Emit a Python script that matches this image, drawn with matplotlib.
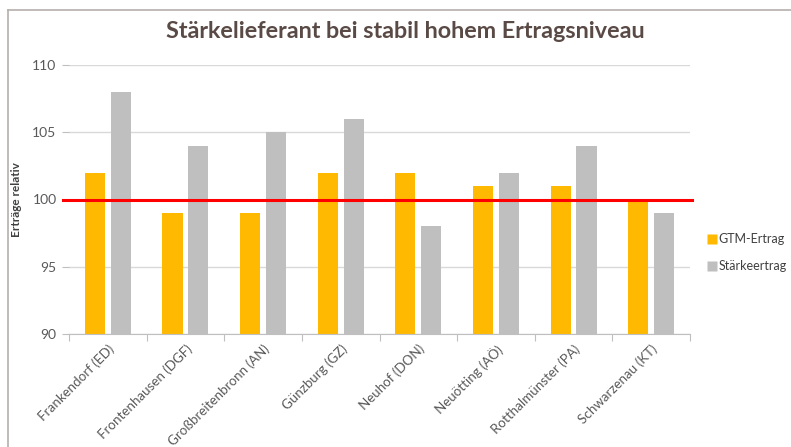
import matplotlib
matplotlib.use("Agg")
import matplotlib.pyplot as plt
import numpy as np
from matplotlib.lines import Line2D

categories = ["Frankendorf (ED)", "Frontenhausen (DGF)", "Großbreitenbronn (AN)", "Günzburg (GZ)",
              "Neuhof (DON)", "Neuötting (AÖ)", "Rotthalmünster (PA)", "Schwarzenau (KT)"]
gtm = [102, 99, 99, 102, 102, 101, 101, 100]
staerke = [108, 104, 105, 106, 98, 102, 104, 99]
series_names = ["GTM-Ertrag", "Stärkeertrag"]
ref_level = 100

plt.rcParams['font.family'] = ['Lato', 'DejaVu Sans']

W, H = 791, 447
fig = plt.figure(figsize=(W/100, H/100), dpi=100)
ax = fig.add_axes([69/W, 1-334/H, (690-69)/W, (334-65)/H])

x = np.arange(len(categories))
bw = 0.26
off = 0.167
ax.bar(x - off, gtm, bw, color="#FFB900", zorder=2, label=series_names[0])
ax.bar(x + off, staerke, bw, color="#BFBFBF", zorder=2, label=series_names[1])

ax.set_ylim(90, 110)
ax.set_xlim(-0.5, len(categories) - 0.5)
ax.set_yticks([90, 95, 100, 105, 110])
ax.yaxis.grid(True, color="#D9D9D9", linewidth=1, zorder=0)
ax.set_axisbelow(True)
ax.axhline(ref_level, color="#FF0000", linewidth=2.2, zorder=3, xmin=-0.01, xmax=1.003, clip_on=False)

for s in ["top", "right", "left"]:
    ax.spines[s].set_visible(False)
ax.spines["bottom"].set_color("#BFBFBF")

ax.set_xticks(np.arange(len(categories) + 1) - 0.5, minor=False)
ax.set_xticklabels([])
ax.tick_params(axis="x", which="major", length=5, color="#BFBFBF", direction="out")
ax.set_xticks(x, minor=True)
ax.set_xticklabels(categories, minor=True, rotation=45, ha="right", rotation_mode="anchor",
                   fontsize=9.6, color="#595959")
ax.tick_params(axis="x", which="minor", length=0, pad=6)
ax.tick_params(axis="y", length=5, color="#BFBFBF", labelsize=10, labelcolor="#595959", pad=4)

ax.set_ylabel("Erträge relativ", fontsize=8.5, fontweight="bold", color="#404040")
ax.yaxis.set_label_coords((22 - 69) / 621, 0.5)

fig.text(0.5 + 10/W, 1 - 32/H, "Stärkelieferant bei stabil hohem Ertragsniveau", ha="center", va="center",
         fontsize=16.8, fontweight="bold", color="#5A4A46")

handles = [Line2D([0], [0], marker="s", linestyle="none", markersize=7.5, markerfacecolor="#FFB900", markeredgecolor="none"),
           Line2D([0], [0], marker="s", linestyle="none", markersize=7.5, markerfacecolor="#BFBFBF", markeredgecolor="none")]
fig.legend(handles, series_names, loc="upper left", bbox_to_anchor=(706/W, 1 - 233/H), frameon=False,
           fontsize=9, labelcolor="#404040", handletextpad=0.0, handlelength=1.0, labelspacing=1.2,
           borderaxespad=0, borderpad=0)

# chart frame
fig.add_artist(Line2D([8/W, 8/W], [0, 1 - 10/H], color="#B5AEAC", linewidth=1.2, transform=fig.transFigure))
fig.add_artist(Line2D([8/W, 1], [1 - 10/H, 1 - 10/H], color="#B5AEAC", linewidth=1.2, transform=fig.transFigure))

fig.savefig("out.png", dpi=100)
